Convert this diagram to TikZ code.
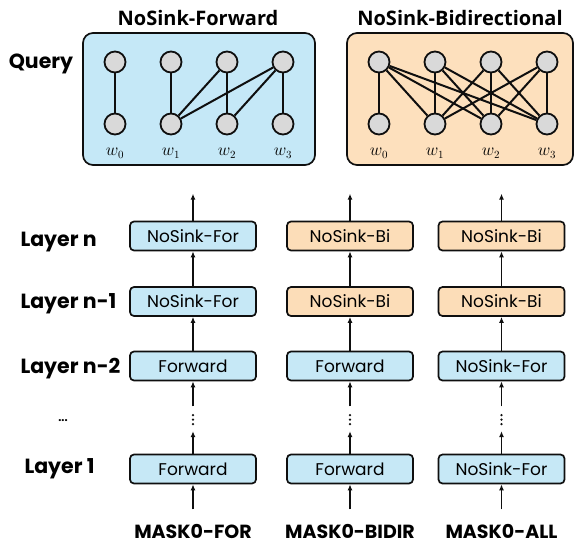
\documentclass[tikz,border=0pt]{standalone}
\usepackage{fontspec}
\setmainfont{Poppins}
\newfontfamily\titlefont{Open Sans}
\usetikzlibrary{arrows.meta}
\definecolor{panelblue}{RGB}{197,232,247}
\definecolor{panelorange}{RGB}{253,224,189}
\definecolor{boxblue}{RGB}{198,232,246}
\definecolor{boxorange}{RGB}{252,221,184}
\definecolor{nodegray}{RGB}{217,217,217}
\definecolor{ink}{RGB}{15,15,15}
\tikzset{
  panel/.style={draw=ink, line width=1.7pt, rounded corners=10pt},
  tok/.style={circle, draw=ink, fill=nodegray, line width=1.8pt, minimum size=21pt, inner sep=0pt},
  attn/.style={draw=ink, line width=2pt},
  wlab/.style={font=\fontsize{16}{16}\selectfont},
  layerbox/.style={draw=ink, line width=1.7pt, rounded corners=4pt, minimum width=126pt, minimum height=29pt, inner sep=0pt, font=\fontsize{17}{17}\selectfont},
  bluebox/.style={layerbox, fill=boxblue},
  orangebox/.style={layerbox, fill=boxorange},
  flow/.style={draw=ink, line width=1.7pt, -{Latex[length=6pt,width=5pt]}},
  rowlab/.style={anchor=base west, font=\fontsize{20.5}{20.5}\selectfont\bfseries},
  collab/.style={anchor=base, inner sep=1pt, text depth=0pt, font=\fontsize{19}{19}\selectfont\bfseries},
  ttl/.style={anchor=base, font=\titlefont\fontsize{20}{20}\selectfont\bfseries},
}
\begin{document}
\begin{tikzpicture}[x=1pt, y=-1pt]
\useasboundingbox (0,0) rectangle (575,546);
% ---------- top panels ----------
\node[ttl] (tf) at (198,25) {NoSink-Forward};
\node[ttl] (tb) at (460,25) {NoSink-Bidirectional};
\node[anchor=base, font=\fontsize{20.5}{20.5}\selectfont\bfseries] (query) at (41,68) {Query};
\draw[panel, fill=panelblue] (83,33) rectangle (315,165);
\draw[panel, fill=panelorange] (347,33) rectangle (573,165);
% forward tokens
\foreach \i/\x in {0/115,1/171,2/227,3/283}{
  \node[tok] (fq\i) at (\x,62) {};
  \node[tok] (fk\i) at (\x,124) {};
  \node[wlab] (fw\i) at (\x,153) {$w_{\i}$};
}
\foreach \a/\b in {0/0,1/1,2/1,2/2,3/1,3/2,3/3}{
  \draw[attn] (fq\a) -- (fk\b);
}
% bidirectional tokens
\foreach \i/\x in {0/379,1/435,2/491,3/547}{
  \node[tok] (bq\i) at (\x,62) {};
  \node[tok] (bk\i) at (\x,124) {};
  \node[wlab] (bw\i) at (\x,153) {$w_{\i}$};
}
\foreach \a/\b in {0/0,0/1,0/2,0/3,1/1,1/2,1/3,2/1,2/2,2/3,3/1,3/2,3/3}{
  \draw[attn] (bq\a) -- (bk\b);
}
% ---------- layer stacks ----------
\node[rowlab] (ln) at (17,246.5) {Layer n};
\node[rowlab] (ln1) at (17,308) {Layer n-1};
\node[rowlab] (ln2) at (17,373) {Layer n-2};
\node[font=\fontsize{11}{11}\selectfont\bfseries] (ldots) at (63,421) {...};
\node[rowlab] (l1) at (21,473) {Layer 1};

% column 1
\node[bluebox] (a4) at (193,236) {NoSink-For};
\node[bluebox] (a3) at (193,301.5) {NoSink-For};
\node[bluebox] (a2) at (193,366) {Forward};
\node[bluebox] (a1) at (193,469) {Forward};
% column 2
\node[orangebox] (b4) at (350,236) {NoSink-Bi};
\node[orangebox] (b3) at (350,301.5) {NoSink-Bi};
\node[bluebox] (b2) at (350,366) {Forward};
\node[bluebox] (b1) at (350,469) {Forward};
% column 3
\node[orangebox] (c4) at (501.5,236) {NoSink-Bi};
\node[orangebox] (c3) at (501.5,301.5) {NoSink-Bi};
\node[bluebox] (c2) at (501.5,366) {NoSink-For};
\node[bluebox] (c1) at (501.5,469) {NoSink-For};

\node[collab] (ma) at (193,538) {MASK0-FOR};
\node[collab] (mb) at (350,538) {MASK0-BIDIR};
\node[collab] (mc) at (501.5,538) {MASK0-ALL};

\foreach \c in {a,b,c}{
  \coordinate (\c top) at ([yshift=27pt]\c4.north);
  \coordinate (\c bot) at ([yshift=-25pt]\c1.south);
  \coordinate (\c gapA) at ([yshift=-25pt]\c2.south);
  \coordinate (\c gapB) at ([yshift=22.5pt]\c1.north);
  \draw[flow] (\c4.north) -- (\c top);
  \draw[flow] (\c3.north) -- (\c4.south);
  \draw[flow] (\c2.north) -- (\c3.south);
  \draw[flow] (\c gapA) -- (\c2.south);
  \draw[flow] (\c1.north) -- (\c gapB);
  \foreach \k in {0,1,2}{
    \fill[ink] ([yshift=\k*4.5pt+7pt]\c gapB) circle (1.3pt);
  }
  \draw[flow] (\c bot) -- (\c1.south);
}
\end{tikzpicture}
\end{document}
